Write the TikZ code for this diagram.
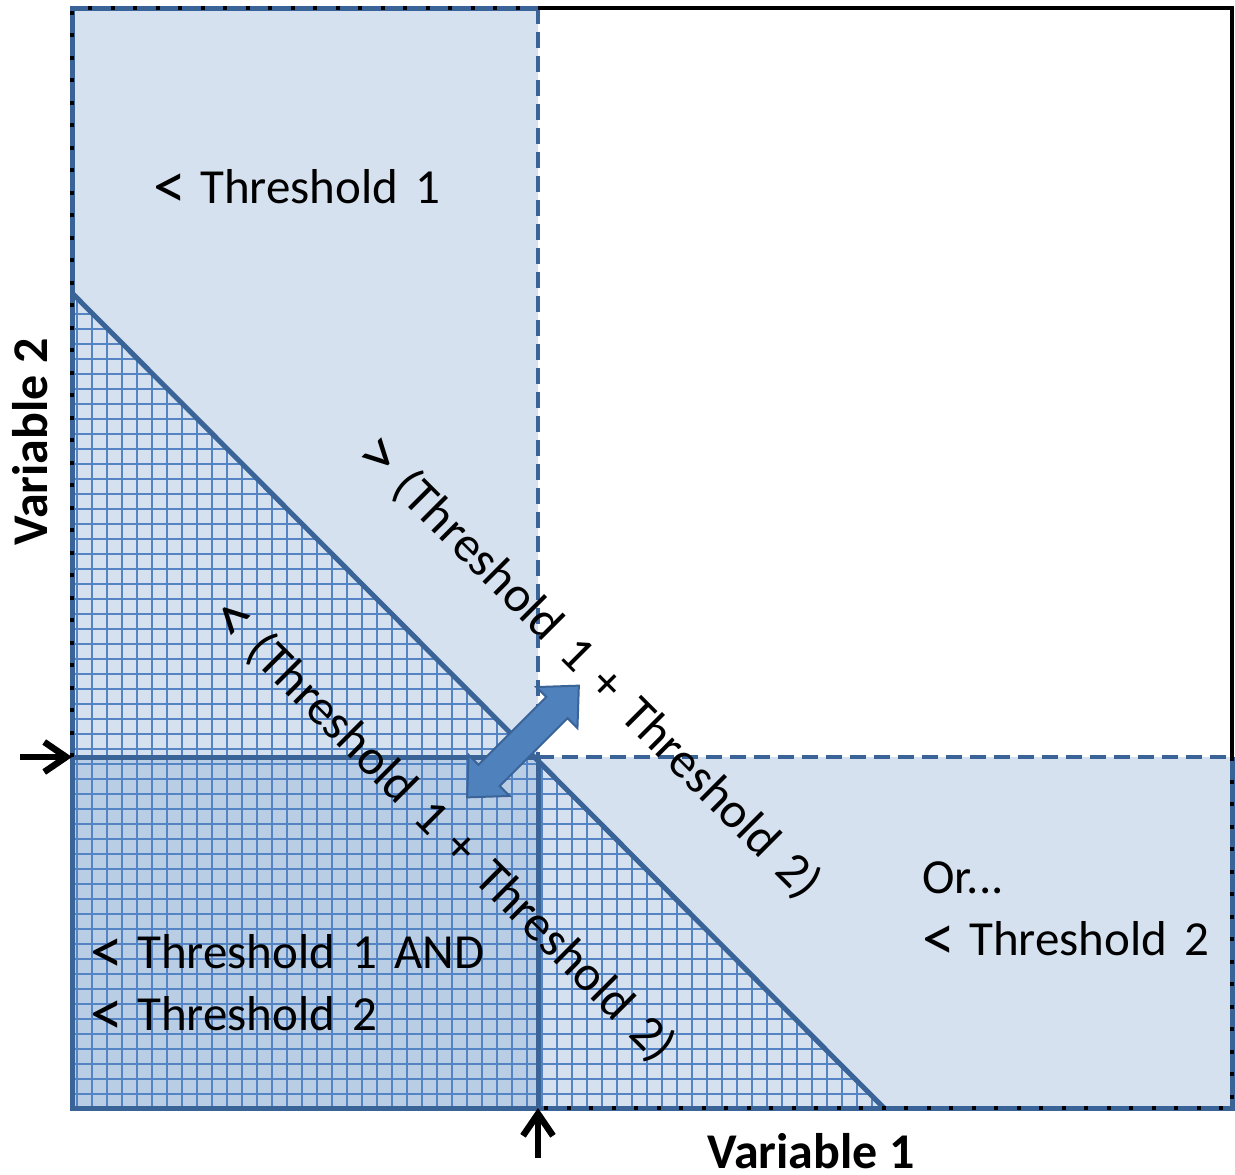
\documentclass[tikz,border=0pt]{standalone}
\usepackage{graphicx}
\usepackage{fontspec}
\setmainfont{Carlito}
\usetikzlibrary{arrows.meta}
\definecolor{paleblue}{RGB}{214,225,239}
\definecolor{midblue}{RGB}{185,205,229}
\definecolor{edgeblue}{RGB}{58,99,152}
\definecolor{gridblue}{RGB}{84,132,196}
\definecolor{arrowfill}{RGB}{79,129,189}
\newcommand\widewords[1]{\spaceskip=#1\relax}
% larger comparison signs, kept centred on the text line
\newcommand\lessmark{\raisebox{-5pt}{\scalebox{1.35}{<}}\hspace{-3pt}}
\newcommand\moremark{\raisebox{-5pt}{\scalebox{1.35}{>}}\hspace{-3pt}}
\tikzset{
  gridline/.style={gridblue, line width=2.1pt},
  diagline/.style={edgeblue, line width=5pt},
  dashline/.style={edgeblue, line width=4.5pt, dash pattern=on 16pt off 8pt},
  solidline/.style={edgeblue, line width=5pt},
  frameline/.style={edgeblue, line width=5pt, line join=miter},
  framedots/.style={black, line width=4.5pt, dash pattern=on 4pt off 18.5pt},
  bigarrow/.style={fill=arrowfill, draw=edgeblue, line width=2pt, line join=miter},
  marker/.style={black, line width=6.5pt, -{Straight Barb[length=22pt,width=30pt,line width=6.5pt]}},
  lbl/.style={font=\fontsize{49}{56}\selectfont, inner sep=0pt,
    execute at begin node={\widewords{0.35em}}},
  axislbl/.style={font=\fontsize{50}{56}\selectfont\bfseries, inner sep=0pt},
  difflbl/.style={font=\fontsize{50}{56}\selectfont, inner sep=0pt, rotate=-45,
    execute at begin node={\widewords{0.36em}}}
}
\begin{document}
\begin{tikzpicture}[x=1pt,y=-1pt]
\useasboundingbox (0,0) rectangle (1235,1175);
% key points of the plot frame and the two thresholds
\coordinate (TL) at (72,8);
\coordinate (TR) at (1232,8);
\coordinate (BR) at (1232,1108);
\coordinate (BL) at (72,1108);
\coordinate (Xtop) at (538,8);
\coordinate (Xbot) at (538,1108);
\coordinate (Yleft) at (72,757);
\coordinate (Yright) at (1232,757);
\coordinate (C) at (538,757);
\coordinate (Dtop) at (72,293);
\coordinate (Dbot) at (884,1108);
\coordinate (Ytail) at (20,757);
\coordinate (Xtail) at (538,1158);

% threshold regions
\fill[paleblue] (TL) rectangle (Xbot);
\fill[paleblue] (Yleft) rectangle (BR);
\fill[midblue] (Yleft) rectangle (Xbot);

% hatched region below the sum threshold
\begin{scope}
  \clip (Dtop) -- (BL) -- (Dbot) -- cycle;
  \foreach \x in {77,92,...,890} \draw[gridline] (\x,280) -- (\x,1115);
  \foreach \y in {299,314,...,1115} \draw[gridline] (65,\y) -- (895,\y);
\end{scope}
\draw[diagline] (Dtop) -- (Dbot);

% threshold lines
\draw[dashline] (Xtop) -- (C);
\draw[dashline] (C) -- (Yright);
\draw[solidline] (Yleft) -- (C) -- (Xbot);

% frame
\draw[frameline] (Yright) -- (BR) -- (BL) -- (TL) -- (Xtop);
\draw[framedots] (Yright) -- (BR) -- (Xbot);
\draw[framedots] (Yleft) -- (TL) -- (Xtop);
\draw[black, line width=4.5pt, line join=miter] (Xtop) -- (TR) -- (Yright);

% double-headed block arrow across the corner
\begin{scope}[shift={(523,741.5)}, rotate=45]
  \draw[bigarrow] (79,0) -- (48,29) -- (48,15) -- (-48,15) -- (-48,29)
    -- (-79,0) -- (-48,-29) -- (-48,-15) -- (48,-15) -- (48,-29) -- cycle;
\end{scope}

% threshold markers
\draw[marker] (Ytail) -- (Yleft);
\draw[marker] (Xtail) -- (Xbot);

% labels
\node[lbl, anchor=base west] (t1) at (153,203) {\lessmark{} Threshold 1};
\node[lbl, anchor=base west] (both1) at (90,968) {\lessmark{} Threshold 1 AND};
\node[lbl, anchor=base west] (both2) at (90,1030) {\lessmark{} Threshold 2};
\node[lbl, anchor=base west] (or) at (922,893) {Or...};
\node[lbl, anchor=base west] (t2) at (922,955) {\lessmark{} Threshold 2};
\node[axislbl, rotate=90, anchor=base] (v2) at (47,442) {Variable 2};
\node[axislbl, anchor=base] (v1) at (811,1168) {Variable 1};
\node[difflbl] (gt) at (590,668) {\moremark{} (Threshold 1 + Threshold 2)};
\node[difflbl] (lt) at (444,831) {\lessmark{} (Threshold 1 + Threshold 2)};
\end{tikzpicture}
\end{document}
